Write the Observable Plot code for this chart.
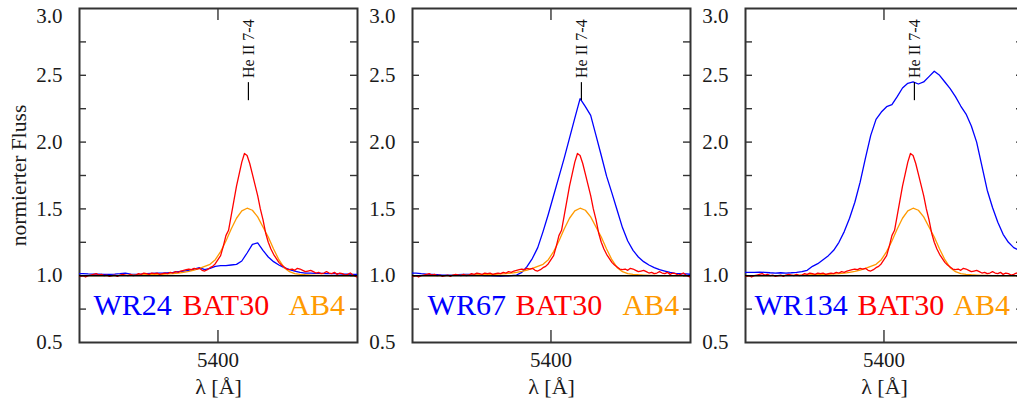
<!DOCTYPE html>
<html>
<head>
<meta charset="utf-8">
<script src="https://cdn.jsdelivr.net/npm/d3@7"></script>
<script src="https://cdn.jsdelivr.net/npm/@observablehq/plot@0.6"></script>
<style>
  body { margin: 0; background: #fff; }
  #wrap { position: relative; width: 1017px; height: 400px; overflow: hidden; background: #fff; font-family: "Liberation Serif", serif; }
  #wrap svg { position: absolute; top: 0; }
</style>
</head>
<body>
<div id="wrap"></div>
<script>
// Wavelength grids (Å)
const lamFine = [5347,5348,5349,5350,5351,5352,5353,5354,5355,5356,5357,5358,5359,5360,5361,5362,5363,5364,5365,5366,5367,5368,5369,5370,5371,5372,5373,5374,5375,5376,5377,5378,5379,5380,5381,5382,5383,5384,5385,5386,5387,5388,5389,5390,5391,5392,5393,5394,5395,5396,5397,5398,5399,5400,5401,5402,5403,5404,5405,5406,5407,5408,5409,5410,5411,5412,5413,5414,5415,5416,5417,5418,5419,5420,5421,5422,5423,5424,5425,5426,5427,5428,5429,5430,5431,5432,5433,5434,5435,5436,5437,5438,5439,5440,5441,5442,5443,5444,5445,5446,5447,5448,5449,5450,5451,5452,5453];
const lamCoarse = [5347,5349,5351,5353,5355,5357,5359,5361,5363,5365,5367,5369,5371,5373,5375,5377,5379,5381,5383,5385,5387,5389,5391,5393,5395,5397,5399,5401,5403,5405,5407,5409,5411,5413,5415,5417,5419,5421,5423,5425,5427,5429,5431,5433,5435,5437,5439,5441,5443,5445,5447,5449,5451,5453];

// BAT30 (red), on lamFine
const fluxBAT30 = [1.005,0.995,1.0,0.99,1.0,1.005,1.01,1.015,1.005,1.01,1.0,1.005,0.995,1.0,1.005,0.995,1.005,1.01,1.005,1.0,1.01,1.0,1.005,1.015,1.01,1.02,1.015,1.01,1.02,1.015,1.02,1.01,1.015,1.02,1.015,1.025,1.02,1.03,1.025,1.035,1.04,1.045,1.05,1.045,1.055,1.05,1.055,1.04,1.035,1.045,1.06,1.07,1.09,1.12,1.15,1.22,1.3,1.34,1.45,1.56,1.67,1.76,1.85,1.915,1.9,1.84,1.76,1.68,1.6,1.5,1.42,1.32,1.25,1.2,1.16,1.13,1.1,1.08,1.065,1.05,1.045,1.05,1.04,1.055,1.05,1.04,1.03,1.035,1.04,1.03,1.02,1.025,1.015,1.02,1.03,1.02,1.015,1.025,1.01,1.02,1.015,1.005,1.01,1.02,1.005,0.995,0.985];

// AB4 (orange), on lamCoarse
const fluxAB4 = [1.0,1.0,1.0,1.0,1.0,1.0,1.0,1.0,1.002,1.003,1.004,1.005,1.006,1.007,1.008,1.009,1.01,1.013,1.016,1.02,1.025,1.032,1.042,1.055,1.07,1.085,1.12,1.18,1.26,1.35,1.43,1.485,1.505,1.49,1.44,1.365,1.29,1.2,1.12,1.06,1.03,1.015,1.01,1.007,1.005,1.003,1.002,1.0,1.0,1.0,1.0,1.0,1.0,1.0];

// WR stars (blue), on lamCoarse
const fluxWR24 = [1.015,1.015,1.013,1.012,1.012,1.01,1.01,1.012,1.015,1.02,1.012,1.01,1.012,1.015,1.018,1.02,1.02,1.022,1.025,1.03,1.035,1.04,1.05,1.06,1.045,1.055,1.07,1.075,1.075,1.08,1.085,1.11,1.17,1.235,1.245,1.19,1.14,1.105,1.08,1.06,1.045,1.035,1.025,1.02,1.02,1.018,1.017,1.015,1.015,1.015,1.012,1.012,1.01,1.01];
const fluxWR67 = [1.02,1.02,1.015,1.012,1.01,1.008,1.005,1.005,1.005,1.008,1.01,1.01,1.008,1.005,1.0,1.0,0.998,0.997,0.998,1.0,1.005,1.025,1.07,1.13,1.21,1.33,1.46,1.6,1.74,1.88,2.03,2.18,2.325,2.265,2.2,2.05,1.9,1.745,1.62,1.49,1.36,1.26,1.19,1.14,1.105,1.08,1.06,1.045,1.035,1.025,1.018,1.015,1.013,1.01];
const fluxWR134 = [1.025,1.025,1.025,1.027,1.025,1.022,1.02,1.022,1.02,1.022,1.025,1.03,1.04,1.07,1.09,1.12,1.15,1.19,1.25,1.33,1.43,1.55,1.7,1.88,2.05,2.17,2.225,2.265,2.28,2.34,2.405,2.44,2.45,2.435,2.45,2.49,2.53,2.5,2.45,2.4,2.34,2.27,2.21,2.12,2.0,1.82,1.64,1.51,1.4,1.31,1.25,1.21,1.19,1.17];

const starNames = ["WR24", "WR67", "WR134"];
const compNames = ["BAT30", "AB4"];
const yTickValues = [0.5, 1.0, 1.5, 2.0, 2.5];
const yTopTick = [3.0];
const yMinorTicks = [0.75, 1.0, 1.25, 1.5, 1.75, 2.0, 2.25, 2.5, 2.75];
const xTickValues = [5400];
const lineLabel = "He II 7-4";
const lineWavelength = 5411.5;
const yTitle = "normierter Fluss";
const xTitle = "λ [Å]";

const BLUE = "#0000ff", RED = "#ff0000", ORANGE = "#ff9a00";
const FONT = "Liberation Serif";

const toRows = (xs, ys) => xs.map((x, i) => ({x, y: ys[i]}));
const redRows = toRows(lamFine, fluxBAT30);
const orangeRows = toRows(lamCoarse, fluxAB4);

const panels = [
  {name: starNames[0], flux: fluxWR24, left: 0, marginLeft: 79, legendX: [5353.0, 5386.6, 5426.6], showYTitle: true},
  {name: starNames[1], flux: fluxWR67, left: 358, marginLeft: 54, legendX: [5353.4, 5386.6, 5427.0], showYTitle: false},
  {name: starNames[2], flux: fluxWR134, left: 691, marginLeft: 54, legendX: [5351.1, 5390.0, 5426.2], showYTitle: false}
];

const plotW = 278, plotH = 334;
const wrap = document.getElementById("wrap");

for (const p of panels) {
  const blueRows = toRows(lamCoarse, p.flux);
  const txt = {fontFamily: FONT};
  const marks = [
    Plot.frame({stroke: "#333", strokeWidth: 2}),
    Plot.tickY(yMinorTicks, {y: d => d, insetRight: plotW - 7, stroke: "#333", strokeWidth: 1.4}),
    Plot.tickY(yMinorTicks, {y: d => d, insetLeft: plotW - 7, stroke: "#333", strokeWidth: 1.4}),
    Plot.tickX(xTickValues, {x: d => d, insetTop: plotH - 12, stroke: "#333", strokeWidth: 1.4}),
    Plot.tickX(xTickValues, {x: d => d, insetBottom: plotH - 12, stroke: "#333", strokeWidth: 1.4}),
    Plot.axisY(yTickValues, {...txt, tickSize: 0, tickPadding: 17, fontSize: 21, tickFormat: d3.format(".1f"), label: null, fill: "#1a1a1a"}),
    Plot.axisY(yTopTick, {...txt, tickSize: 0, tickPadding: 17, fontSize: 21, tickFormat: d3.format(".1f"), label: null, dy: 8, fill: "#1a1a1a"}),
    Plot.axisX(xTickValues, {...txt, tickSize: 0, tickPadding: 10, fontSize: 21, tickFormat: d => String(d), label: null, fill: "#1a1a1a"}),
    Plot.line(blueRows, {x: "x", y: "y", stroke: BLUE, strokeWidth: 1.3, clip: true}),
    Plot.line(orangeRows, {x: "x", y: "y", stroke: ORANGE, strokeWidth: 1.3, clip: true}),
    Plot.line(redRows, {x: "x", y: "y", stroke: RED, strokeWidth: 1.3, clip: true}),
    Plot.ruleY([1.0], {stroke: "#000", strokeWidth: 1.4}),
    Plot.ruleX([lineWavelength], {y1: 2.31, y2: 2.445, stroke: "#000", strokeWidth: 1.2}),
    Plot.text([{t: lineLabel, x: lineWavelength, y: 2.48}], {...txt, x: "x", y: "y", text: "t", rotate: -90, textAnchor: "start", lineAnchor: "middle", fontSize: 16, fill: "#111"}),
    Plot.text([{t: p.name, x: p.legendX[0], y: 0.708}], {...txt, x: "x", y: "y", text: "t", textAnchor: "start", lineAnchor: "bottom", fontSize: 30, fill: BLUE}),
    Plot.text([{t: compNames[0], x: p.legendX[1], y: 0.708}], {...txt, x: "x", y: "y", text: "t", textAnchor: "start", lineAnchor: "bottom", fontSize: 30, fill: RED}),
    Plot.text([{t: compNames[1], x: p.legendX[2], y: 0.708}], {...txt, x: "x", y: "y", text: "t", textAnchor: "start", lineAnchor: "bottom", fontSize: 30, fill: ORANGE}),
    Plot.text([xTitle], {...txt, frameAnchor: "bottom", textAnchor: "middle", dy: 51, lineAnchor: "bottom", fontSize: 22, fill: "#1a1a1a"})
  ];
  if (p.showYTitle) {
    marks.push(Plot.text([yTitle], {...txt, frameAnchor: "left", textAnchor: "middle", lineAnchor: "middle", dx: -60, rotate: -90, fontSize: 21.5, fill: "#1a1a1a"}));
  }
  const svg = Plot.plot({
    width: p.marginLeft + plotW + 1,
    height: 400,
    marginLeft: p.marginLeft,
    marginRight: 1,
    marginTop: 8,
    marginBottom: 58,
    x: {domain: [5347.7, 5452.7]},
    y: {domain: [0.5, 3.0]},
    style: {fontFamily: FONT, background: "transparent", overflow: "visible"},
    marks
  });
  svg.style.left = p.left + "px";
  wrap.appendChild(svg);
}
</script>
</body>
</html>
